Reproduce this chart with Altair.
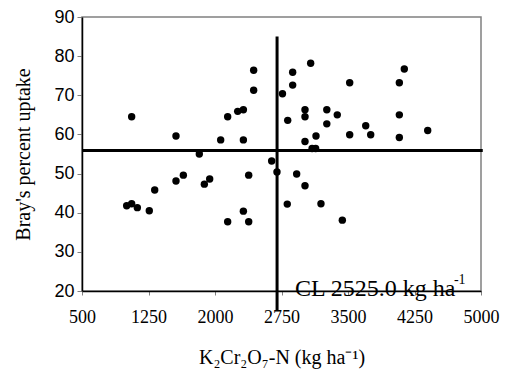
import altair as alt
import pandas as pd

# data
x_vals = [1060, 1560, 2064, 2143, 2256, 2320, 2320, 2436, 2436, 2761, 2820, 2876, 2876, 3079,
          3015, 3015, 3261, 3379, 3261, 3519, 4079, 4135, 4079, 3700, 3756, 3519, 4079, 4399,
          3139, 3015, 3095, 3135, 1823, 1004, 1060, 1124, 1259, 1320, 1560, 1643, 1880, 1940,
          2143, 2320, 2380, 2380, 2639, 2699, 2815, 2921, 3015, 3195, 3436]
y_vals = [64.5, 59.6, 58.6, 64.5, 65.9, 66.3, 58.6, 76.4, 71.3, 70.4, 63.6, 75.9, 72.6, 78.2,
          66.3, 64.5, 66.3, 65.0, 62.7, 73.2, 73.2, 76.7, 65.0, 62.2, 59.9, 59.9, 59.2, 61.0,
          59.6, 58.2, 56.4, 56.4, 55.0, 41.8, 42.3, 41.3, 40.5, 45.8, 48.1, 49.6, 47.3, 48.6,
          37.7, 40.4, 37.7, 49.6, 53.2, 50.4, 42.2, 49.9, 46.9, 42.3, 38.1]

x_ticks = [500, 1250, 2000, 2750, 3500, 4250, 5000]
y_ticks = [20, 30, 40, 50, 60, 70, 80, 90]

v_line_x = [2700]
v_line_y = [85]
v_line_y2 = [15]
h_line_y = [55.9]
h_line_x = [500]
h_line_x2 = [5020]

cl_text = ["CL 2525.0 kg ha"]
cl_x = [2902]
cl_y = [18.7]
sup_text = ["-1"]
sup_x = [4695]
sup_y = [21.8]

df = pd.DataFrame({"x": x_vals, "y": y_vals})

xs = alt.Scale(domain=[500, 5000], nice=False, zero=False)
ys = alt.Scale(domain=[20, 90], nice=False, zero=False)

serif = "Liberation Serif"
sans = "Liberation Sans"

x_axis = alt.Axis(
    values=x_ticks, format="d", title="K₂Cr₂O₇-N (kg ha⁻¹)", grid=False,
    labelFont=serif, labelFontSize=18, labelColor="black", labelPadding=13,
    labelOverlap=False, labelFlush=False,
    tickSize=4, tickColor="#808080", domainColor="black", domainWidth=1.5,
    titleFont=serif, titleFontSize=20, titleFontWeight="normal", titleColor="black",
    titlePadding=21)
y_axis = alt.Axis(
    values=y_ticks, format="d", title="Bray's percent uptake", grid=False,
    labelFont=sans, labelFontSize=18, labelColor="black", labelPadding=3,
    labelOverlap=False, labelFlush=False,
    tickSize=5, tickColor="#808080", domainColor="black", domainWidth=1.5,
    titleFont=serif, titleFontSize=20, titleFontWeight="normal", titleColor="black",
    titlePadding=20)

points = alt.Chart(df).mark_circle(size=55, color="black", opacity=1).encode(
    x=alt.X("x:Q", scale=xs, axis=x_axis),
    y=alt.Y("y:Q", scale=ys, axis=y_axis),
)

vrule = alt.Chart(pd.DataFrame({"x": v_line_x, "y": v_line_y, "y2": v_line_y2})).mark_rule(
    strokeWidth=3, color="black").encode(
    x=alt.X("x:Q", scale=xs, axis=x_axis), y=alt.Y("y:Q", scale=ys, axis=y_axis), y2="y2:Q")

hrule = alt.Chart(pd.DataFrame({"y": h_line_y, "x": h_line_x, "x2": h_line_x2})).mark_rule(
    strokeWidth=3, color="black").encode(
    y=alt.Y("y:Q", scale=ys, axis=y_axis), x=alt.X("x:Q", scale=xs, axis=x_axis), x2="x2:Q")

cl = alt.Chart(pd.DataFrame({"x": cl_x, "y": cl_y, "t": cl_text})).mark_text(
    font=serif, fontSize=24, align="left", baseline="alphabetic", color="black").encode(
    x=alt.X("x:Q", scale=xs, axis=x_axis), y=alt.Y("y:Q", scale=ys, axis=y_axis), text="t:N")

sup = alt.Chart(pd.DataFrame({"x": sup_x, "y": sup_y, "t": sup_text})).mark_text(
    font=serif, fontSize=14, align="left", baseline="alphabetic", color="black").encode(
    x=alt.X("x:Q", scale=xs, axis=x_axis), y=alt.Y("y:Q", scale=ys, axis=y_axis), text="t:N")

chart = alt.layer(points, hrule, vrule, cl, sup).properties(
    width=399, height=274,
    autosize=alt.AutoSizeParams(type="none"),
    padding={"left": 82, "top": 17, "right": 25, "bottom": 91},
    background="white",
).configure_view(stroke="#808080", strokeWidth=1.5)

chart.save("out.html", embed_options={"renderer": "svg", "actions": False})
